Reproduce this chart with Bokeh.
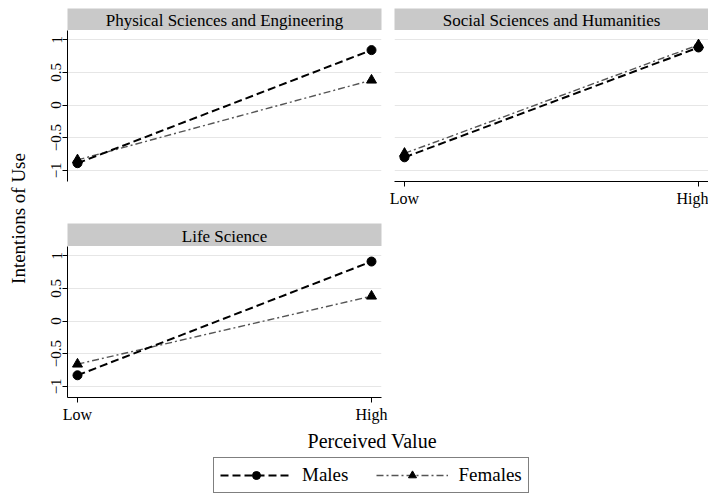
import math
from bokeh.plotting import figure
from bokeh.models import (Range1d, FixedTicker, Label, Legend, LegendItem,
                          ColumnDataSource)
from bokeh.layouts import row, column, Spacer
from bokeh.embed import file_html
from bokeh.resources import INLINE

# ---------------- data ----------------
levels = ["Low", "High"]
panel_titles = ["Physical Sciences and Engineering",
                "Social Sciences and Humanities",
                "Life Science"]
males_pse = [-0.89, 0.84]
females_pse = [-0.84, 0.38]
males_ssh = [-0.80, 0.88]
females_ssh = [-0.74, 0.92]
males_ls = [-0.83, 0.91]
females_ls = [-0.66, 0.38]
y_ticks = [-1, -0.5, 0, 0.5, 1]
y_tick_labels = ["\u22121", "\u22120.5", "0", "0.5", "1"]
series_names = ["Males", "Females"]

FONT = "Liberation Serif"
STRIP = "#c9c9c9"
GRID = "#e6e6e6"
x_pos = list(range(len(levels)))

MALE_STYLE = dict(line_color="black", line_width=2, line_dash="8 4")
FEMALE_STYLE = dict(line_color="#555555", line_width=1.4, line_dash="7 3 2 3")


def strip(text, width, left, right, height):
    s = figure(width=width, height=height, x_range=Range1d(0, 1), y_range=Range1d(0, 1),
               x_axis_location=None, y_axis_location=None, toolbar_location=None,
               output_backend="svg", min_border_left=left, min_border_right=right,
               min_border_top=0, min_border_bottom=0)
    s.background_fill_color = STRIP
    s.outline_line_color = None
    s.grid.visible = False
    s.add_layout(Label(x=0.5, y=0.45, text=text, text_align="center",
                       text_baseline="middle", text_font=FONT,
                       text_font_size="17px", text_color="black"))
    return s


def panel(males, females, show_x, show_y, width, height, left, right, bottom):
    p = figure(width=width, height=height,
               x_range=Range1d(-0.034, 1.034), y_range=Range1d(-1.17, 1.14),
               x_axis_location="below" if show_x else None,
               y_axis_location="left" if show_y else None,
               toolbar_location=None, output_backend="svg",
               min_border_left=left, min_border_right=right,
               min_border_top=0, min_border_bottom=bottom)
    p.outline_line_color = None
    p.background_fill_color = "white"
    p.xgrid.visible = False
    p.ygrid.ticker = FixedTicker(ticks=y_ticks)
    p.ygrid.grid_line_color = GRID
    p.ygrid.grid_line_width = 1
    if show_y:
        ax = p.yaxis[0]
        ax.ticker = FixedTicker(ticks=y_ticks)
        ax.major_label_overrides = {t: l for t, l in zip(y_ticks, y_tick_labels)}
        ax.major_label_orientation = "parallel"
        ax.major_label_text_font = FONT
        ax.major_label_text_font_size = "15px"
        ax.major_label_text_color = "black"
        ax.axis_line_color = "black"
        ax.major_tick_line_color = "black"
        ax.major_tick_out = 5
        ax.major_tick_in = 0
        ax.minor_tick_line_color = None
        ax.major_label_standoff = 1
    if show_x:
        ax = p.xaxis[0]
        ax.ticker = FixedTicker(ticks=x_pos)
        ax.major_label_overrides = {i: l for i, l in zip(x_pos, levels)}
        ax.major_label_text_font = FONT
        ax.major_label_text_font_size = "16px"
        ax.major_label_text_color = "black"
        ax.axis_line_color = "black"
        ax.major_tick_line_color = "black"
        ax.major_tick_out = 5
        ax.major_tick_in = 0
        ax.minor_tick_line_color = None
        ax.major_label_standoff = 3
    p.line(x_pos, females, **FEMALE_STYLE)
    p.line(x_pos, males, **MALE_STYLE)
    p.scatter(x_pos, females, marker="triangle", size=10, color="black")
    p.scatter(x_pos, males, marker="circle", size=9, color="black")
    return p


# column 1
s1 = strip(panel_titles[0], 350, 29, 7, 22)
p1 = panel(males_pse, females_pse, False, True, 350, 193, 29, 7, 42)
s3 = strip(panel_titles[2], 350, 29, 7, 23)
p3 = panel(males_ls, females_ls, True, True, 350, 182, 29, 7, 31)
# column 2
s2 = strip(panel_titles[1], 320, 6, 0, 22)
p2 = panel(males_ssh, females_ssh, True, False, 320, 193, 6, 0, 42)

# y-axis title
ylab = figure(width=38, height=420, x_range=Range1d(0, 1), y_range=Range1d(0, 1),
              x_axis_location=None, y_axis_location=None, toolbar_location=None,
              output_backend="svg", min_border=0)
ylab.outline_line_color = None
ylab.grid.visible = False
ylab.add_layout(Label(x=0.47, y=0.50, text="Intentions of Use", angle=math.pi / 2,
                      text_align="center", text_baseline="middle", text_font=FONT,
                      text_font_size="19px", text_color="black"))

# bottom: x title + legend
bot = figure(width=708, height=69, x_range=Range1d(0, 1), y_range=Range1d(0, 1),
             x_axis_location=None, y_axis_location=None, toolbar_location=None,
             output_backend="svg", min_border=0)
bot.outline_line_color = None
bot.grid.visible = False
bot.add_layout(Label(x=0.525, y=0.826, text="Perceived Value", text_align="center",
                     text_baseline="middle", text_font=FONT, text_font_size="20px",
                     text_color="black"))
nan = float("nan")
dummy_m = ColumnDataSource(dict(x=[nan], y=[nan]))
dummy_f = ColumnDataSource(dict(x=[nan], y=[nan]))
rm_l = bot.line("x", "y", source=dummy_m, **MALE_STYLE)
rm_p = bot.scatter("x", "y", source=dummy_m, marker="circle", size=9, color="black")
rf_l = bot.line("x", "y", source=dummy_f, **FEMALE_STYLE)
rf_p = bot.scatter("x", "y", source=dummy_f, marker="triangle", size=11, color="black")
legend = Legend(items=[LegendItem(label=series_names[0], renderers=[rm_l, rm_p]),
                       LegendItem(label=series_names[1], renderers=[rf_l, rf_p])],
                location=(213, 4), orientation="horizontal",
                glyph_width=72, glyph_height=20, label_standoff=10, spacing=28,
                padding=6, margin=0, border_line_color="black", border_line_width=1,
                label_text_font=FONT, label_text_font_size="19px",
                label_text_color="black", background_fill_alpha=1)
bot.add_layout(legend, "center")

col1 = column(s1, p1, s3, p3)
col2 = column(s2, p2, Spacer(width=320, height=205))
layout = column(Spacer(width=708, height=8), row(ylab, col1, col2), bot)

open("out.html", "w").write(file_html(layout, INLINE))
